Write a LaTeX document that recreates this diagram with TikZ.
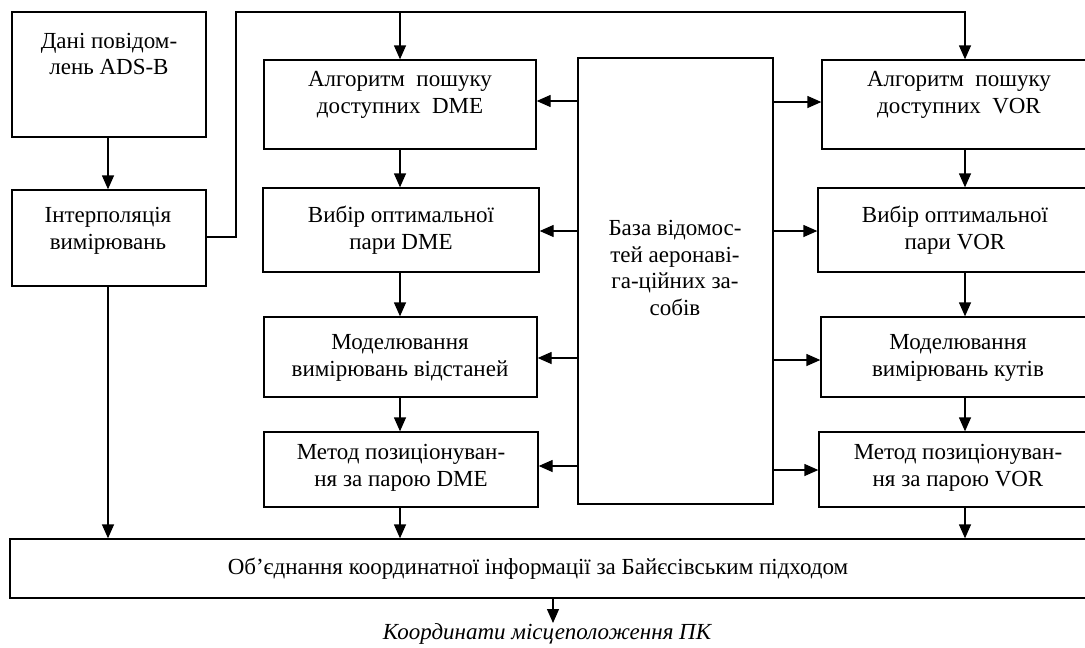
\documentclass[tikz,border=0pt]{standalone}
\usepackage{fontspec}
\setmainfont{Liberation Serif}
\usetikzlibrary{arrows.meta,calc}
\begin{document}
\begin{tikzpicture}[x=1pt,y=-1pt,
  box/.style={draw,line width=1.3pt,inner sep=0pt},
  txt/.style={align=center,inner sep=0pt,font=\fontsize{23}{26.5}\selectfont},
  arr/.style={line width=1.3pt,-{Triangle[length=14pt,width=12pt]}},
  ln/.style={line width=1.3pt}]
\clip (0,0) rectangle (1085,648);
\fill[white] (0,0) rectangle (1085,648);
% boxes: corners
\newcommand{\bx}[5]{\node[box,minimum width=#4-#2,minimum height=#5-#3] (#1) at ({(#2+#4)/2},{(#3+#5)/2}) {};}
\bx{ads}{12}{12}{206}{137}
\bx{interp}{12}{190}{206}{286}
\bx{d1}{264}{60}{536}{149}
\bx{d2}{263}{188}{539}{272}
\bx{d3}{264}{317}{537}{397}
\bx{d4}{264}{432}{538}{507}
\bx{db}{578}{58}{773}{504}
\bx{v1}{822}{60}{1100}{149}
\bx{v2}{818}{188}{1100}{272}
\bx{v3}{821}{317}{1100}{397}
\bx{v4}{819}{432}{1100}{507}
\bx{main}{10}{539}{1100}{598}
% texts
\node[txt] (tads) at (109,54) {Дані повідом-\\лень ADS-B};
\node[txt] (tinterp) at (108,231) {Інтерполяція\\вимірювань};
\node[txt] (td1) at (400,95) {Алгоритм\ \ пошуку\\доступних\ \ DME};
\node[txt] (td2) at (401,230) {Вибір оптимальної\\пари DME};
\node[txt] (td3) at (400,358) {Моделювання\\вимірювань відстаней};
\node[txt] (td4) at (401,468) {Метод позиціонуван-\\ня за парою DME};
\node[txt] (tdb) at (675,268) {База відомос-\\тей аеронаві-\\га-ційних за-\\собів};
\node[txt] (tv1) at (959,95) {Алгоритм\ \ пошуку\\доступних\ \ VOR};
\node[txt] (tv2) at (955,230) {Вибір оптимальної\\пари VOR};
\node[txt] (tv3) at (958,358) {Моделювання\\вимірювань кутів};
\node[txt] (tv4) at (958,468) {Метод позиціонуван-\\ня за парою VOR};
\node[txt] (tmain) at (538,569) {Об’єднання координатної інформації за Байєсівським підходом};
\node[txt,font=\fontsize{23}{26.5}\selectfont\itshape] (tout) at (547,634) {Координати місцеположення ПК};
% helper coordinates
\coordinate (vx) at (965,0);
\coordinate (lx) at (108,0);
\coordinate (c1) at (236,237);
\coordinate (c2) at (236,12);
\coordinate (c3) at (965,12);
\coordinate (c4) at (400,12);
\coordinate (r1) at (0,101);
\coordinate (r2) at (0,231);
\coordinate (r3) at (0,358);
\coordinate (r4) at (0,466);
\coordinate (s1) at (0,102);
\coordinate (s2) at (0,231);
\coordinate (s3) at (0,360);
\coordinate (s4) at (0,470);
\coordinate (ox) at (553,0);
\coordinate (oend) at (553,623);
% connectors
\draw[arr] (ads.south -| lx) -- (interp.north -| lx);
\draw[arr] (interp.south -| lx) -- (main.north -| lx);
\draw[arr] (interp.east |- c1) -- (c1) -- (c2) -- (c3) -- (v1.north -| vx);
\draw[arr] (c4) -- (d1.north);
\draw[arr] (d1.south) -- (d2.north -| d1.south);
\draw[arr] (d2.south -| d1.south) -- (d3.north -| d1.south);
\draw[arr] (d3.south -| d1.south) -- (d4.north -| d1.south);
\draw[arr] (d4.south -| d1.south) -- (main.north -| d1.south);
\draw[arr] (v1.south -| vx) -- (v2.north -| vx);
\draw[arr] (v2.south -| vx) -- (v3.north -| vx);
\draw[arr] (v3.south -| vx) -- (v4.north -| vx);
\draw[arr] (v4.south -| vx) -- (main.north -| vx);
\draw[arr] (db.west |- r1) -- (d1.east |- r1);
\draw[arr] (db.west |- r2) -- (d2.east |- r2);
\draw[arr] (db.west |- r3) -- (d3.east |- r3);
\draw[arr] (db.west |- r4) -- (d4.east |- r4);
\draw[arr] (db.east |- s1) -- (v1.west |- s1);
\draw[arr] (db.east |- s2) -- (v2.west |- s2);
\draw[arr] (db.east |- s3) -- (v3.west |- s3);
\draw[arr] (db.east |- s4) -- (v4.west |- s4);
\draw[arr] (main.south -| ox) -- (oend);
\end{tikzpicture}
\end{document}
